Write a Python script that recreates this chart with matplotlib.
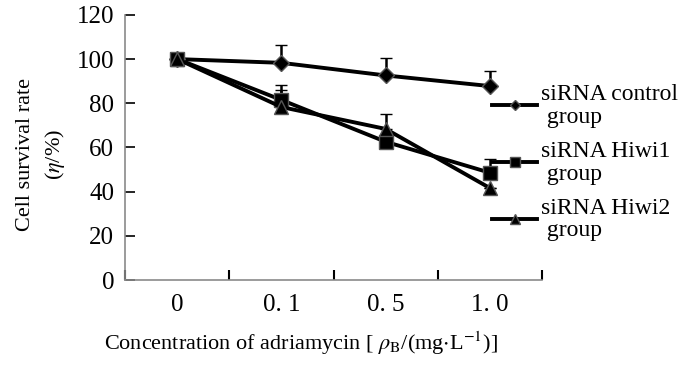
import matplotlib.pyplot as plt
import numpy as np
from matplotlib.lines import Line2D

plt.rcParams["font.family"] = ["Liberation Serif", "DejaVu Serif"]
plt.rcParams["mathtext.fontset"] = "stix"

# ------------------------------------------------------------------ data
concentrations = ["0", "0. 1", "0. 5", "1. 0"]
control_mean = [100, 98.3, 92.6, 87.8]
control_err = [0, 8.0, 8.0, 7.0]
hiwi1_mean = [100, 81.5, 62.6, 48.6]
hiwi1_err = [0, 7.0, 0, 6.2]
hiwi2_mean = [100, 78.3, 68.4, 41.7]
hiwi2_err = [0, 7.7, 6.8, 0]
labels = ["siRNA control\n group", "siRNA Hiwi1\n group", "siRNA Hiwi2\n group"]
markers = ["D", "s", "^"]
marker_sizes = [8, 10, 10]

# ------------------------------------------------------------------ plot
fig = plt.figure(figsize=(7, 3.72), dpi=100)
ax = fig.add_axes([0.179, 0.247, 0.595, 0.713])

x = np.arange(len(concentrations))
series = [(control_mean, control_err), (hiwi1_mean, hiwi1_err), (hiwi2_mean, hiwi2_err)]
handles = []
for (mean, err), lab, mk, ms in zip(series, labels, markers, marker_sizes):
    style = dict(color="black", marker=mk, mfc="black", mec="#555555", mew=1.0)
    ax.errorbar(x, mean, yerr=[np.zeros(len(err)), err], lw=2.8, ms=ms,
                elinewidth=1.8, capsize=4, capthick=1.8, **style)
    handles.append(Line2D([], [], lw=2.8, ms=ms * 0.7, **style))

ax.set_xlim(-0.5, 3.5)
ax.set_ylim(0, 120)
ax.set_yticks(range(0, 121, 20))
ax.set_xticks(np.arange(-0.5, 3.6, 1.0), minor=True)
ax.set_xticks(x)
ax.set_xticklabels(concentrations)
ax.tick_params(axis="x", which="major", length=0, labelsize=18, pad=10)
ax.tick_params(axis="x", which="minor", direction="in", length=7, width=1.5, color="black")
ax.tick_params(axis="y", direction="in", length=7, width=1.2, color="black", labelsize=18, pad=8)

for side in ["top", "right"]:
    ax.spines[side].set_visible(False)
for side in ["left", "bottom"]:
    ax.spines[side].set_color("#8a8a8a")
    ax.spines[side].set_linewidth(1.2)

fig.text(0.036, 0.585, "Cell survival rate", rotation=90, ha="center", va="center", fontsize=16)
fig.text(0.078, 0.585, "($\\eta$/%)", rotation=90, ha="center", va="center", fontsize=16)
fig.text(0.43, 0.078, "Concentration of adriamycin [ $\\rho_{\\rm B}$/(mg$\\cdot$L$^{-1}$)]",
         ha="center", va="center", fontsize=16)

leg = ax.legend(handles, labels, loc="upper left", bbox_to_anchor=(0.703, 0.775),
                bbox_transform=fig.transFigure, frameon=False, fontsize=17,
                handlelength=1.9, handletextpad=0.15, labelspacing=0.55,
                borderpad=0, borderaxespad=0)
for t in leg.get_texts():
    t.set_linespacing(1.12)

fig.savefig("out.png", dpi=100)
